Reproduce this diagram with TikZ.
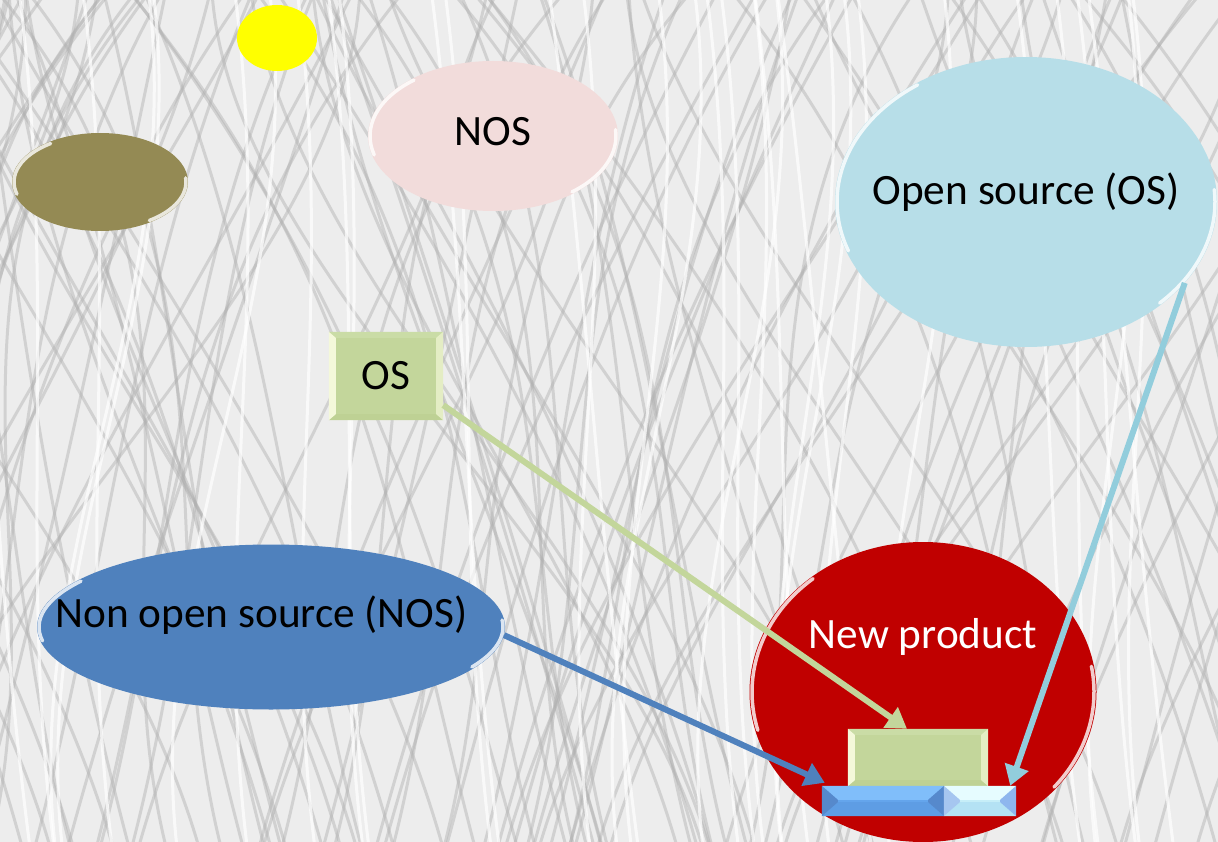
\documentclass[tikz,border=0pt]{standalone}
\usepackage{fontspec}
\setmainfont{Carlito}
\usetikzlibrary{shapes.geometric,arrows.meta,calc}

\definecolor{bgc}{HTML}{EDEDED}
\definecolor{texc}{HTML}{B0B0B0}
\definecolor{sunc}{HTML}{FFFF00}
\definecolor{olivec}{HTML}{948A54}
\definecolor{pinkc}{HTML}{F2DCDB}
\definecolor{skyc}{HTML}{B7DEE8}
\definecolor{leafc}{HTML}{C3D69B}
\definecolor{leafl}{HTML}{F4F8DA}
\definecolor{leafm}{HTML}{E4EDC4}
\definecolor{leaft}{HTML}{CADCA6}
\definecolor{leafb}{HTML}{BED194}
\definecolor{navyc}{HTML}{4F81BD}
\definecolor{redc}{HTML}{C00000}
\definecolor{barc}{HTML}{64A5EC}
\definecolor{bart}{HTML}{80BEFA}
\definecolor{barb}{HTML}{5E9DE4}
\definecolor{bars}{HTML}{5689CC}
\definecolor{lbarc}{HTML}{C6EEF8}
\definecolor{lbart}{HTML}{E6FCFF}
\definecolor{lbarb}{HTML}{B4E2F4}
\definecolor{lbarl}{HTML}{A6C6F0}
\definecolor{lbarr}{HTML}{8EB6EE}
\definecolor{arrgreen}{HTML}{C3D69B}
\definecolor{arrblue}{HTML}{4F81BD}
\definecolor{arrsky}{HTML}{92CDDC}

\tikzset{
  ell/.style={ellipse, inner sep=0pt, draw=none},
  boxn/.style={rectangle, inner sep=0pt, draw=none},
  lbl/.style={font=\fontsize{43.3}{50}\selectfont},
  hl/.style={white, line width=3.5pt, opacity=.8, line cap=round},
  conn/.style={line width=6pt, -{Triangle[length=20pt,width=24pt]}},
  tex/.style={texc, line width=3pt, opacity=.45},
  texw/.style={white, line width=3pt, opacity=.7}
}

% centred text of zero size, baseline raised by #1
\newcommand{\ctext}[2]{\smash{\makebox[0pt]{\raisebox{#1}{#2}}}}

% bevel: node name, dx, dy, top, left, right, bottom colours
\newcommand{\bevelbox}[7]{%
  \fill[#4] (#1.north west) -- (#1.north east) -- ($(#1.north east)+(-#2,#3)$) -- ($(#1.north west)+(#2,#3)$) -- cycle;
  \fill[#7] (#1.south west) -- ($(#1.south west)+(#2,-#3)$) -- ($(#1.south east)+(-#2,-#3)$) -- (#1.south east) -- cycle;
  \fill[#5] (#1.north west) -- ($(#1.north west)+(#2,#3)$) -- ($(#1.south west)+(#2,-#3)$) -- (#1.south west) -- cycle;
  \fill[#6] (#1.north east) -- ($(#1.north east)+(-#2,#3)$) -- ($(#1.south east)+(-#2,-#3)$) -- (#1.south east) -- cycle;
}

\begin{document}
\begin{tikzpicture}[x=1pt, y=-1pt]
  \useasboundingbox (0,0) rectangle (1218,842);
  \fill[bgc] (0,0) rectangle (1218,842);

  % background texture
  \begin{scope}
    \clip (0,0) rectangle (1218,842);
    \pgfmathsetseed{42}
    \foreach \i in {1,...,75}{
      \pgfmathsetmacro\xa{rnd*1700-400}
      \pgfmathsetmacro\xb{\xa+150+rnd*350}
      \pgfmathsetmacro\xc{\xa+rnd*250}
      \draw[tex] (\xa,-10) .. controls (\xc,280) and (\xb-80,560) .. (\xb,860);
    }
    \foreach \i in {1,...,75}{
      \pgfmathsetmacro\xa{rnd*1700-100}
      \pgfmathsetmacro\xb{\xa-150-rnd*350}
      \pgfmathsetmacro\xc{\xa-rnd*250}
      \draw[tex] (\xa,-10) .. controls (\xc,280) and (\xb+80,560) .. (\xb,860);
    }
    \foreach \i in {1,...,40}{
      \pgfmathsetmacro\xa{rnd*1400-100}
      \pgfmathsetmacro\xb{\xa+rnd*200-100}
      \draw[texw] (\xa,-10) .. controls (\xa+40,300) and (\xb-40,560) .. (\xb,860);
    }
  \end{scope}

  % ellipses
  \node[ell, fill=sunc, minimum width=80pt, minimum height=66pt] (sun) at (277,38) {};
  \node[ell, fill=olivec, minimum width=176pt, minimum height=98pt] (olive) at (100,182) {};
  \node[ell, fill=pinkc, minimum width=250pt, minimum height=150pt, lbl] (nos) at (493,136) {\ctext{-10pt}{NOS}};
  \node[ell, fill=skyc, minimum width=382pt, minimum height=290pt, lbl] (osell) at (1026,202) {\ctext{-3pt}{Open source (OS)}};
  \node[ell, fill=navyc, minimum width=468pt, minimum height=165pt, lbl] (nonos) at (271,627) {\ctext{0pt}{Non open source (NOS)\hspace*{19pt}}};
  \node[ell, fill=redc, minimum width=347pt, minimum height=300pt, lbl, text=white] (newp) at (923,692) {\ctext{44pt}{New product}};

  % highlights on ellipse rims
  \draw[hl] (olive.center) ++(165:86 and 47) arc[start angle=165, end angle=235, x radius=86, y radius=47];
  \draw[hl] (olive.center) ++(-5:86 and 47) arc[start angle=-5, end angle=55, x radius=86, y radius=47];
  \draw[hl] (nos.center) ++(165:123 and 73) arc[start angle=165, end angle=230, x radius=123, y radius=73];
  \draw[hl] (nos.center) ++(-5:123 and 73) arc[start angle=-5, end angle=50, x radius=123, y radius=73];
  \draw[hl] (osell.center) ++(160:189 and 143) arc[start angle=160, end angle=235, x radius=189, y radius=143];
  \draw[hl] (osell.center) ++(-5:189 and 143) arc[start angle=-5, end angle=45, x radius=189, y radius=143];
  \draw[hl] (nonos.center) ++(170:232 and 80) arc[start angle=170, end angle=215, x radius=232, y radius=80];
  \draw[hl] (nonos.center) ++(-5:232 and 80) arc[start angle=-5, end angle=30, x radius=232, y radius=80];
  \draw[hl] (newp.center) ++(165:171 and 148) arc[start angle=165, end angle=230, x radius=171, y radius=148];
  \draw[hl] (newp.center) ++(-10:171 and 148) arc[start angle=-10, end angle=40, x radius=171, y radius=148];

  % boxes
  \node[boxn, fill=leafc, minimum width=114pt, minimum height=88pt] (osbox) at (386,376) {};
  \node[boxn, fill=leafc, minimum width=140pt, minimum height=57pt] (gbox) at (918,757.5) {};
  \node[boxn, fill=barc, minimum width=122pt, minimum height=30pt] (bbar) at (883,801) {};
  \node[boxn, fill=lbarc, minimum width=72pt, minimum height=30pt] (lbar) at (980,801) {};

  \bevelbox{osbox}{7}{6}{leaft}{leafl}{leafm}{leafb}
  \node[lbl] at (osbox.center) {OS};
  \bevelbox{gbox}{7}{6}{leaft}{leafl}{leafm}{leafb}
  \bevelbox{bbar}{16}{14}{bart}{bars}{bars}{barb}
  \bevelbox{lbar}{16}{14}{lbart}{lbarl}{lbarr}{lbarb}

  % connectors
  \draw[conn, arrgreen] (osbox.-27) -- ($(gbox.north)+(-11,0)$);
  \draw[conn, arrblue] (nonos.-2) -- ($(bbar.north west)+(3,-3)$);
  \draw[conn, arrsky] (osell.-27) -- ($(lbar.north east)+(-6,0)$);
\end{tikzpicture}
\end{document}
